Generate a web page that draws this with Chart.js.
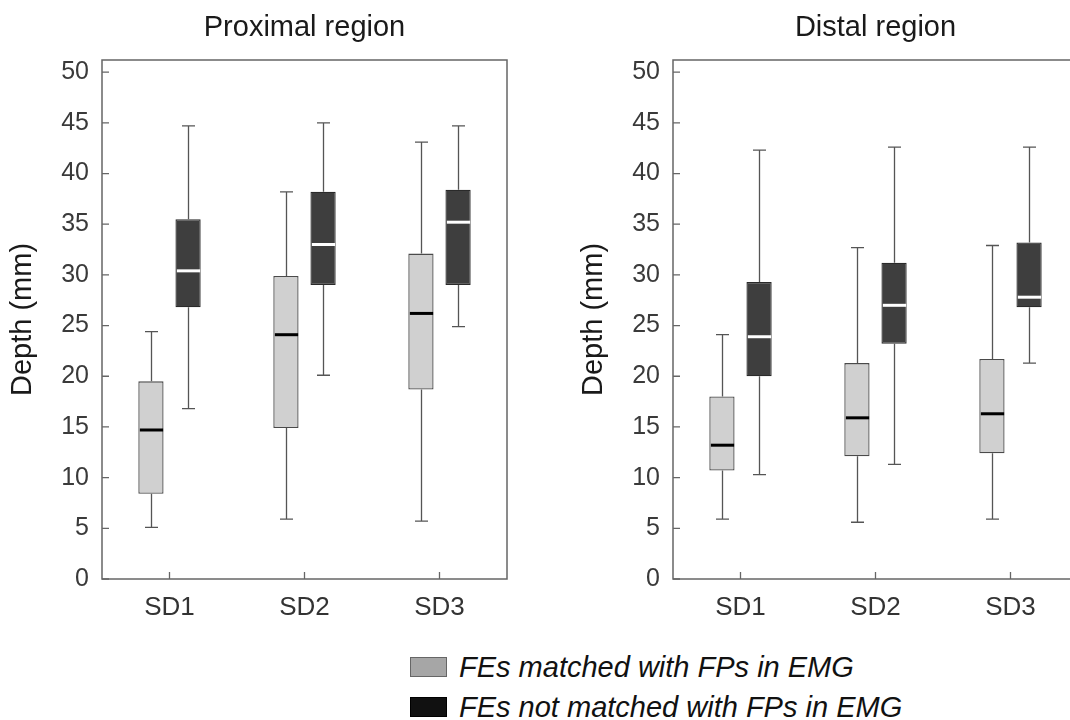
<!DOCTYPE html>
<html>
<head>
<meta charset="utf-8">
<title>Depth by SD - proximal and distal</title>
<script src="https://cdn.jsdelivr.net/npm/chart.js@4.4.1/dist/chart.umd.min.js"></script>
<style>
  html, body { margin: 0; padding: 0; background: #fff; overflow: hidden; }
  #page { position: relative; width: 1070px; height: 720px; overflow: hidden; }
  canvas { position: absolute; top: 0; }
  #proximal { left: 0; }
  #distal { left: 571px; }
  .legend-row { position: absolute; left: 410px; height: 40px; display: flex; align-items: center;
    font: italic 29px 'Liberation Sans', Arial, sans-serif; color: #111; }
  .legend-box { width: 37px; height: 20px; margin-right: 12px; box-sizing: border-box; }
</style>
</head>
<body>
<div id="page">
  <canvas id="proximal" width="540" height="640"></canvas>
  <canvas id="distal" width="540" height="640"></canvas>
  <div class="legend-row" style="top:647px">
    <div class="legend-box" style="background:#a6a6a6;border:1.5px solid #666"></div>FEs matched with FPs in EMG
  </div>
  <div class="legend-row" style="top:687px">
    <div class="legend-box" style="background:#111;border:1.5px solid #000"></div>FEs not matched with FPs in EMG
  </div>
</div>
<script>
const categories = ['SD1', 'SD2', 'SD3'];
const yTicks = [0, 5, 10, 15, 20, 25, 30, 35, 40, 45, 50];
const yMax = 51.2;

// [min, q1, median, q3, max] for each SD
const proximalMatched = [[5.1, 8.4, 14.7, 19.5, 24.4], [5.9, 14.9, 24.1, 29.9, 38.2], [5.7, 18.7, 26.2, 32.1, 43.1]];
const proximalNotMatched = [[16.8, 26.8, 30.4, 35.5, 44.7], [20.1, 29.0, 33.0, 38.2, 45.0], [24.9, 29.0, 35.2, 38.4, 44.7]];
const distalMatched = [[5.9, 10.7, 13.2, 18.0, 24.1], [5.6, 12.1, 15.9, 21.3, 32.7], [5.9, 12.4, 16.3, 21.7, 32.9]];
const distalNotMatched = [[10.3, 20.0, 23.9, 29.3, 42.3], [11.3, 23.2, 27.0, 31.2, 42.6], [21.3, 26.8, 27.8, 33.2, 42.6]];

const FONT = "'Liberation Sans', Arial, sans-serif";
const AXIS_COLOR = '#666';

// whiskers, caps and medians on top of the floating bars
const boxPlotPlugin = {
  id: 'boxPlot',
  afterDatasetsDraw(chart) {
    const ctx = chart.ctx;
    const y = chart.scales.y;
    chart.data.datasets.forEach((ds, di) => {
      const meta = chart.getDatasetMeta(di);
      ds.stats.forEach((s, i) => {
        const bar = meta.data[i];
        const cx = Math.round(bar.x) + 0.5;
        const half = bar.width / 2;
        const cap = 6.5;
        const yMin = y.getPixelForValue(s[0]);
        const yQ1 = y.getPixelForValue(s[1]);
        const yMed = y.getPixelForValue(s[2]);
        const yQ3 = y.getPixelForValue(s[3]);
        const yHi = y.getPixelForValue(s[4]);
        ctx.save();
        ctx.strokeStyle = '#555';
        ctx.lineWidth = 1.3;
        ctx.beginPath();
        ctx.moveTo(cx, yQ3); ctx.lineTo(cx, yHi);
        ctx.moveTo(cx - cap, yHi); ctx.lineTo(cx + cap, yHi);
        ctx.moveTo(cx, yQ1); ctx.lineTo(cx, yMin);
        ctx.moveTo(cx - cap, yMin); ctx.lineTo(cx + cap, yMin);
        ctx.stroke();
        ctx.strokeStyle = ds.medianColor;
        ctx.lineWidth = 3;
        ctx.beginPath();
        ctx.moveTo(cx - half + 1, yMed); ctx.lineTo(cx + half - 1, yMed);
        ctx.stroke();
        ctx.restore();
      });
    });
  }
};

// plot frame with inward tick marks
const framePlugin = {
  id: 'frame',
  afterDraw(chart) {
    const ctx = chart.ctx;
    const a = chart.chartArea;
    const x = chart.scales.x;
    const y = chart.scales.y;
    ctx.save();
    ctx.strokeStyle = AXIS_COLOR;
    ctx.lineWidth = 1.5;
    ctx.strokeRect(a.left, a.top, a.right - a.left, a.bottom - a.top);
    ctx.lineWidth = 1.3;
    ctx.beginPath();
    yTicks.forEach(v => {
      const py = y.getPixelForValue(v);
      ctx.moveTo(a.left, py); ctx.lineTo(a.left + 7, py);
    });
    categories.forEach((c, i) => {
      const px = x.getPixelForValue(i);
      ctx.moveTo(px, a.bottom); ctx.lineTo(px, a.bottom - 7);
    });
    ctx.stroke();
    ctx.restore();
  }
};

function makeChart(id, title, matched, notMatched) {
  return new Chart(document.getElementById(id), {
    type: 'bar',
    data: {
      labels: categories,
      datasets: [
        {
          label: 'FEs matched with FPs in EMG',
          data: matched.map(s => [s[1], s[3]]),
          stats: matched,
          medianColor: '#000',
          backgroundColor: '#d0d0d0',
          borderColor: '#4a4a4a',
          borderWidth: 1.3,
          borderSkipped: false,
          categoryPercentage: 0.55,
          barPercentage: 0.68,
        },
        {
          label: 'FEs not matched with FPs in EMG',
          data: notMatched.map(s => [s[1], s[3]]),
          stats: notMatched,
          medianColor: '#fff',
          backgroundColor: '#3e3e3e',
          borderColor: '#2a2a2a',
          borderWidth: 1.3,
          borderSkipped: false,
          categoryPercentage: 0.55,
          barPercentage: 0.68,
        },
      ],
    },
    options: {
      responsive: false,
      animation: false,
      layout: { padding: { left: 0, right: 33, top: 0, bottom: 21 } },
      plugins: {
        legend: { display: false },
        tooltip: { enabled: false },
        title: {
          display: true,
          text: title,
          fullSize: false,
          color: '#1a1a1a',
          font: { family: FONT, size: 29, weight: 'normal' },
          padding: { top: 11, bottom: 14.2 },
        },
      },
      scales: {
        x: {
          grid: { display: false },
          border: { display: false },
          ticks: { color: '#333', font: { family: FONT, size: 26 }, padding: 5 },
          afterFit: (scale) => { scale.height = 40; },
        },
        y: {
          min: 0,
          max: yMax,
          grid: { display: false },
          border: { display: false },
          afterBuildTicks: (scale) => { scale.ticks = yTicks.map(v => ({ value: v })); },
          ticks: { color: '#3a3a3a', font: { family: FONT, size: 25 }, padding: 5 },
          title: {
            display: true,
            text: 'Depth (mm)',
            color: '#1a1a1a',
            font: { family: FONT, size: 29 },
            padding: { top: 6, bottom: 4 },
          },
          afterFit: (scale) => { scale.width = 102; },
        },
      },
    },
    plugins: [boxPlotPlugin, framePlugin],
  });
}

makeChart('proximal', 'Proximal region', proximalMatched, proximalNotMatched);
makeChart('distal', 'Distal region', distalMatched, distalNotMatched);
</script>
</body>
</html>
